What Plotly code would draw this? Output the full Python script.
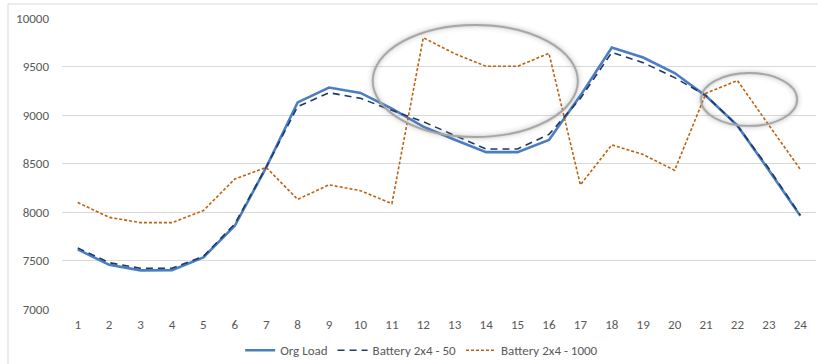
import plotly.graph_objects as go

hours = list(range(1, 25))
org_load = [7615, 7455, 7398, 7400, 7532, 7858, 8460, 9130, 9283, 9228, 9065, 8880,
            8745, 8617, 8617, 8742, 9200, 9695, 9592, 9433, 9195, 8890, 8430, 7960]
battery_50 = [7630, 7478, 7420, 7420, 7542, 7878, 8462, 9086, 9230, 9172, 9048, 8930,
              8790, 8650, 8650, 8800, 9170, 9645, 9540, 9385, 9200, 8890, 8448, 7968]
battery_1000 = [8098, 7945, 7890, 7890, 8015, 8340, 8460, 8130, 8280, 8220, 8086, 9797,
                9632, 9502, 9502, 9636, 8280, 8692, 8592, 8430, 9225, 9355, 8895, 8440]
y_ticks = [7000, 7500, 8000, 8500, 9000, 9500, 10000]

# highlighted regions (hour span, load span)
highlights = [
    (10.39, 16.92, 8773, 9928),
    (20.84, 23.90, 8887, 9433),
]

FONT = "Carlito, Calibri, Liberation Sans, Arial"
TXT = "#595959"

fig = go.Figure()
fig.add_trace(go.Scatter(x=hours, y=org_load, mode="lines", name="Org Load",
                         line=dict(color="#4A7EC4", width=2.6)))
fig.add_trace(go.Scatter(x=hours, y=battery_50, mode="lines", name="Battery 2x4 - 50",
                         line=dict(color="#203864", width=1.6, dash="7px,5px")))
fig.add_trace(go.Scatter(x=hours, y=battery_1000, mode="lines", name="Battery 2x4 - 1000",
                         line=dict(color="#C0600F", width=1.6, dash="3px,2px")))

shapes = []
for x0, x1, y0, y1 in highlights:
    # soft glow around each ellipse
    for w, op in [(12, 0.035), (8, 0.05), (5, 0.07), (3, 0.10)]:
        shapes.append(dict(type="circle", xref="x", yref="y", x0=x0, x1=x1, y0=y0, y1=y1,
                           line=dict(color="rgba(120,120,120,%s)" % op, width=w),
                           fillcolor="rgba(0,0,0,0)", layer="above"))
    shapes.append(dict(type="circle", xref="x", yref="y", x0=x0, x1=x1, y0=y0, y1=y1,
                       line=dict(color="#A6A6A6", width=1.8),
                       fillcolor="rgba(0,0,0,0)", layer="above"))

# chart frame
shapes.append(dict(type="rect", xref="paper", yref="paper",
                   x0=-0.0716, x1=1.01, y0=-0.25, y1=1.048,
                   line=dict(color="#D9D9D9", width=1), layer="below"))

fig.update_layout(
    width=818, height=364,
    margin=dict(l=62, r=2, t=18, b=55, autoexpand=False),
    paper_bgcolor="white", plot_bgcolor="white",
    font=dict(family=FONT, size=13, color=TXT),
    showlegend=True,
    legend=dict(orientation="h", x=0.477, xanchor="center", y=-0.142, yanchor="middle",
                font=dict(family=FONT, size=13, color=TXT), tracegroupgap=0),
    xaxis=dict(range=[0.5, 24.5], tickmode="array", tickvals=hours,
               ticktext=[str(h) for h in hours], showgrid=False, zeroline=False,
               showline=False, ticks="", ticklabelstandoff=6,
               tickfont=dict(size=13, color=TXT)),
    yaxis=dict(range=[7000, 10000], tickmode="array", tickvals=y_ticks,
               ticktext=[str(v) for v in y_ticks], showgrid=True, gridcolor="#D9D9D9",
               gridwidth=1, zeroline=False, showline=False, ticks="",
               ticklabelstandoff=12, tickfont=dict(size=13, color=TXT)),
    shapes=shapes,
)

fig.write_html("out.html")
